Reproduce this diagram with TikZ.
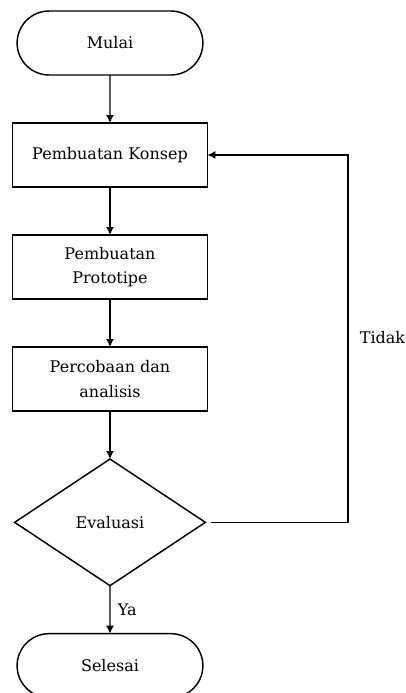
\documentclass[tikz,border=0pt]{standalone}
\usepackage{fontspec}
\setmainfont{DejaVu Serif}
\usetikzlibrary{positioning,shapes.geometric,shapes.misc,arrows.meta}

\begin{document}
\begin{tikzpicture}[
	% One unit is one pixel of the reference, y grows downwards.
	x=0.75pt, y=-0.75pt,
	node distance=36pt,
	font=\fontsize{12}{18.5}\selectfont
	]
	% Define custom styles to make the code cleaner and more reusable.
	\tikzset{
		terminal/.style={draw, rounded rectangle, minimum width=146pt, minimum height=48pt, outer sep=0pt, line width=1.1pt},
		block/.style={draw, rectangle, minimum width=146pt, minimum height=48pt, align=center, outer sep=0pt, line width=1.1pt},
		decision/.style={draw, diamond, minimum width=143pt, minimum height=95pt, inner sep=0pt, outer sep=0pt, line width=1.1pt},
		line/.style={-{Latex[length=6pt, width=6pt]}, line width=1.1pt}
	}
	\useasboundingbox (0,0) rectangle (405,693);
	\clip (0,0) rectangle (405,693);
	
	% === NODES ===
	\node[terminal] (mulai) at (110,43) {Mulai};
	\node[block, below=of mulai] (konsep) {Pembuatan Konsep};
	\node[block, below=of konsep] (prototipe) {Pembuatan\\Prototipe};
	\node[block, below=of prototipe] (percobaan) {Percobaan dan\\analisis};
	\node[decision, below=of percobaan] (evaluasi) {Evaluasi};
	\node[terminal, below=of evaluasi] (selesai) {Selesai};
	\coordinate (loop) at (348,521);
	
	% === CONNECTIONS ===
	\draw[line] (mulai) -- (konsep);
	\draw[line] (konsep) -- (prototipe);
	\draw[line] (prototipe) -- (percobaan);
	\draw[line] (percobaan) -- (evaluasi);
	\draw[line] (evaluasi) -- node[right, xshift=2pt] (ya) {Ya} (selesai);
	\draw[line, shorten <=4.5pt] (evaluasi.east) -| (loop)
		|- node[right, pos=0.25, xshift=5pt] (tidak) {Tidak} (konsep.east);
\end{tikzpicture}
\end{document}
